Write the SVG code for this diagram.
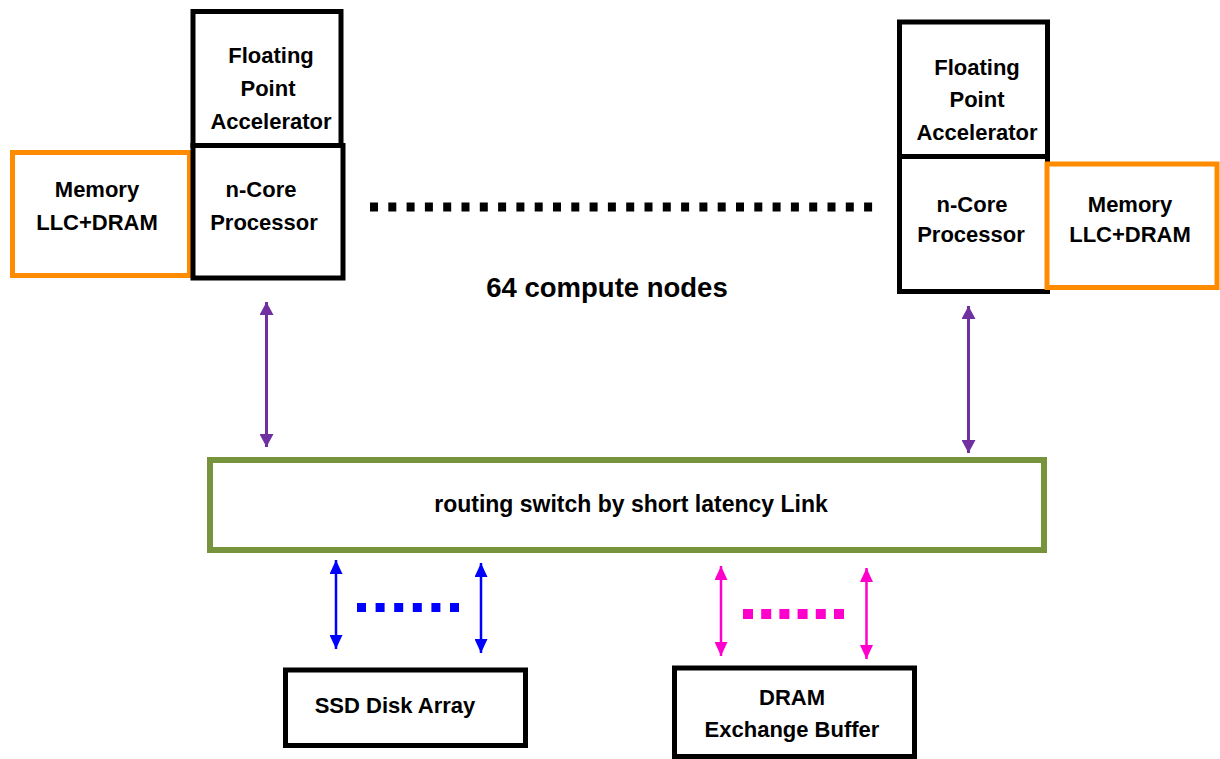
<svg xmlns="http://www.w3.org/2000/svg" width="1220" height="759" viewBox="0 0 1220 759">
  <style>
    .blk { fill: #ffffff; stroke: #000000; stroke-width: 5; }
    .mem { fill: #ffffff; stroke: #FF8C00; stroke-width: 5; }
    .sw { fill: #ffffff; stroke: #77933C; stroke-width: 6; }
    text { font-family: "Liberation Sans", Arial, sans-serif; font-weight: bold; font-size: 22px; fill: #000000; text-anchor: middle; }
    .big { font-size: 27.5px; }
    .mid { font-size: 23px; }
    .purple { stroke: #7030A0; stroke-width: 3; fill: none; }
    .blue { stroke: #0000FF; stroke-width: 2.5; fill: none; }
    .mag { stroke: #FF00CC; stroke-width: 2.5; fill: none; }
  </style>
  <defs>
    <marker id="ap" markerUnits="userSpaceOnUse" markerWidth="14" markerHeight="14" refX="13" refY="7" orient="auto-start-reverse" viewBox="0 0 14 14">
      <path d="M0,0 L13,7 L0,14 z" fill="#7030A0"/>
    </marker>
    <marker id="ab" markerUnits="userSpaceOnUse" markerWidth="14" markerHeight="13" refX="14" refY="6.5" orient="auto-start-reverse" viewBox="0 0 14 13">
      <path d="M0,0 L14,6.5 L0,13 z" fill="#0000FF"/>
    </marker>
    <marker id="am" markerUnits="userSpaceOnUse" markerWidth="14" markerHeight="13" refX="14" refY="6.5" orient="auto-start-reverse" viewBox="0 0 14 13">
      <path d="M0,0 L14,6.5 L0,13 z" fill="#FF00CC"/>
    </marker>
  </defs>
  <rect width="1220" height="759" fill="#ffffff"/>

  <g id="mem-left">
    <rect class="mem" x="12.5" y="152.5" width="177" height="123"/>
    <text x="97" y="197">Memory</text>
    <text x="97" y="230">LLC+DRAM</text>
  </g>
  <g id="fpa-left">
    <rect class="blk" x="193" y="11.5" width="148" height="134"/>
    <text x="271" y="63">Floating</text>
    <text x="268" y="96">Point</text>
    <text x="271" y="129">Accelerator</text>
  </g>
  <g id="core-left">
    <rect class="blk" x="193" y="145.5" width="150" height="132.5"/>
    <text x="261" y="197">n-Core</text>
    <text x="264" y="230">Processor</text>
  </g>

  <g id="fpa-right">
    <rect class="blk" x="899.5" y="22" width="148" height="134.5"/>
    <text x="977" y="75">Floating</text>
    <text x="977" y="107">Point</text>
    <text x="977" y="140">Accelerator</text>
  </g>
  <g id="core-right">
    <rect class="blk" x="899.5" y="156.5" width="148" height="135"/>
    <text x="972" y="212">n-Core</text>
    <text x="971" y="242">Processor</text>
  </g>
  <g id="mem-right">
    <rect class="mem" x="1047" y="164" width="170" height="123.5"/>
    <text x="1130" y="212">Memory</text>
    <text x="1130" y="242">LLC+DRAM</text>
  </g>

  <g id="label-nodes">
    <text class="big" x="607" y="297">64 compute nodes</text>
  </g>

  <g id="switch">
    <rect class="sw" x="210" y="460" width="834" height="90"/>
    <text class="mid" x="631" y="512">routing switch by short latency Link</text>
  </g>

  <g id="ssd">
    <rect class="blk" x="285.5" y="670" width="240" height="75.5"/>
    <text x="395" y="713">SSD Disk Array</text>
  </g>
  <g id="dram">
    <rect class="blk" x="674.5" y="668" width="240" height="88.5"/>
    <text x="792" y="705">DRAM</text>
    <text x="792" y="737">Exchange Buffer</text>
  </g>

  <g id="connectors">
    <line x1="370" y1="207" x2="880" y2="207" stroke="#000000" stroke-width="9" stroke-dasharray="8 10.3"/>
    <line class="purple" x1="266.5" y1="302" x2="266.5" y2="447" marker-start="url(#ap)" marker-end="url(#ap)"/>
    <line class="purple" x1="968.5" y1="306" x2="968.5" y2="453" marker-start="url(#ap)" marker-end="url(#ap)"/>
    <line class="blue" x1="336" y1="560" x2="336" y2="649" marker-start="url(#ab)" marker-end="url(#ab)"/>
    <line class="blue" x1="481" y1="563" x2="481" y2="653" marker-start="url(#ab)" marker-end="url(#ab)"/>
    <line x1="357" y1="607.5" x2="459.5" y2="607.5" stroke="#0000FF" stroke-width="9" stroke-dasharray="9 9.6"/>
    <line class="mag" x1="721" y1="566" x2="721" y2="656" marker-start="url(#am)" marker-end="url(#am)"/>
    <line class="mag" x1="866.5" y1="568" x2="866.5" y2="659" marker-start="url(#am)" marker-end="url(#am)"/>
    <line x1="743" y1="614" x2="844" y2="614" stroke="#FF00CC" stroke-width="10" stroke-dasharray="10 8.2"/>
  </g>
</svg>
